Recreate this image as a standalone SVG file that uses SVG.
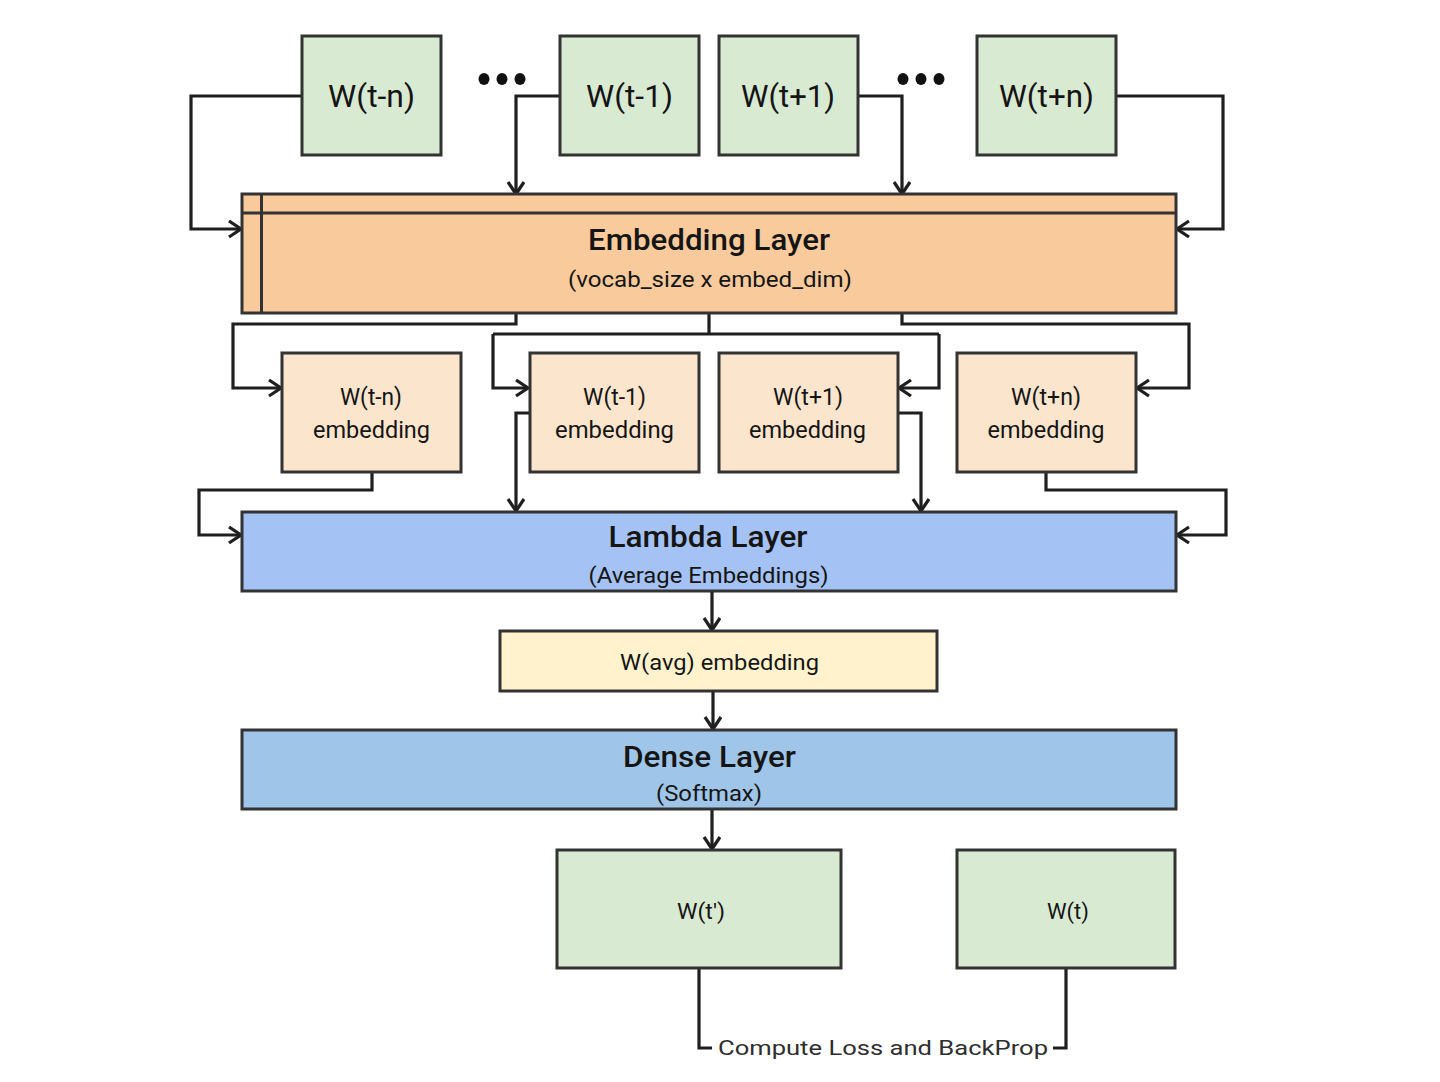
<svg xmlns="http://www.w3.org/2000/svg" width="1440" height="1082" viewBox="0 0 1440 1082">
<style>
.box{stroke:#333333;stroke-width:3}
.green{fill:#d9ead3}
.peach{fill:#f9cb9c}
.light{fill:#fce5cd}
.lambda{fill:#a4c2f4}
.avg{fill:#fff2cc}
.dense{fill:#9fc5e8}
.conn{fill:none;stroke:#1f1f1f;stroke-width:3.2;stroke-linejoin:miter}
.arr{marker-end:url(#arrow)}
text{font-family:Roboto,"Liberation Sans",Arial,sans-serif;fill:#151515;text-anchor:middle}
.t31{font-size:31px}
.t29{font-size:29px;font-weight:500}
.t23{font-size:23px}
.t21{font-size:22px}
.t22{font-size:22px}
</style>
<defs>
<marker id="arrow" markerUnits="userSpaceOnUse" markerWidth="20" markerHeight="20" refX="13" refY="9" orient="auto" viewBox="0 0 20 20">
<path d="M1,1 L13,9 L1,17" fill="none" stroke="#1f1f1f" stroke-width="3.2"/>
</marker>
</defs>
<rect width="1440" height="1082" fill="#ffffff"/>

<g id="connectors">
<path class="conn arr" d="M301,96 H191 V229 H241"/>
<path class="conn arr" d="M559,96 H516 V194"/>
<path class="conn arr" d="M859,96 H902 V194"/>
<path class="conn arr" d="M1117,96 H1223 V229 H1177"/>
<path class="conn arr" d="M516,313 V324 H233 V388 H281"/>
<path class="conn" d="M709,313 V334 M493,334 H939"/>
<path class="conn arr" d="M493,334 V388 H528"/>
<path class="conn arr" d="M939,334 V388 H899"/>
<path class="conn arr" d="M902,313 V324 H1189 V388 H1137"/>
<path class="conn arr" d="M372,473 V490 H199 V535 H241"/>
<path class="conn arr" d="M529,413 H516 V511"/>
<path class="conn arr" d="M898,413 H921 V511"/>
<path class="conn arr" d="M1046,473 V490 H1226 V535 H1177"/>
<path class="conn arr" d="M712,592 V630"/>
<path class="conn arr" d="M713,692 V729"/>
<path class="conn arr" d="M712,810 V849"/>
<path class="conn" d="M699,969 V1048 H712"/>
<path class="conn" d="M1066,969 V1048 H1053"/>
</g>

<g id="dots-left" fill="#111">
<ellipse cx="484" cy="79" rx="5.5" ry="6"/>
<ellipse cx="502" cy="79" rx="5.5" ry="6"/>
<ellipse cx="520" cy="79" rx="5.5" ry="6"/>
</g>
<g id="dots-right" fill="#111">
<ellipse cx="903" cy="79" rx="5.5" ry="6"/>
<ellipse cx="921" cy="79" rx="5.5" ry="6"/>
<ellipse cx="939" cy="79" rx="5.5" ry="6"/>
</g>

<g id="w-t-n">
<rect class="box green" x="302" y="36" width="139" height="119"/>
<text class="t31" x="371.5" y="107" textLength="87" lengthAdjust="spacingAndGlyphs">W(t-n)</text>
</g>
<g id="w-t-1">
<rect class="box green" x="560" y="36" width="139" height="119"/>
<text class="t31" x="629.5" y="107" textLength="87" lengthAdjust="spacingAndGlyphs">W(t-1)</text>
</g>
<g id="w-t+1">
<rect class="box green" x="719" y="36" width="139" height="119"/>
<text class="t31" x="788" y="107" textLength="94" lengthAdjust="spacingAndGlyphs">W(t+1)</text>
</g>
<g id="w-t+n">
<rect class="box green" x="977" y="36" width="139" height="119"/>
<text class="t31" x="1046.5" y="107" textLength="95" lengthAdjust="spacingAndGlyphs">W(t+n)</text>
</g>

<g id="embedding-layer">
<rect class="box peach" x="242" y="194" width="934" height="119"/>
<line x1="242" y1="213" x2="1176" y2="213" stroke="#333333" stroke-width="3"/>
<line x1="261.5" y1="194" x2="261.5" y2="313" stroke="#333333" stroke-width="3"/>
<text class="t29" x="709" y="250" textLength="242" lengthAdjust="spacingAndGlyphs">Embedding Layer</text>
<text class="t21" x="710" y="287" textLength="284" lengthAdjust="spacingAndGlyphs">(vocab_size x embed_dim)</text>
</g>

<g id="emb-t-n">
<rect class="box light" x="282" y="353" width="179" height="119"/>
<text class="t23" x="371" y="405" textLength="62" lengthAdjust="spacingAndGlyphs">W(t-n)</text>
<text class="t23" x="371.5" y="438" textLength="117" lengthAdjust="spacingAndGlyphs">embedding</text>
</g>
<g id="emb-t-1">
<rect class="box light" x="530" y="353" width="169" height="119"/>
<text class="t23" x="614.5" y="405" textLength="63" lengthAdjust="spacingAndGlyphs">W(t-1)</text>
<text class="t23" x="614.5" y="438" textLength="119" lengthAdjust="spacingAndGlyphs">embedding</text>
</g>
<g id="emb-t+1">
<rect class="box light" x="719" y="353" width="179" height="119"/>
<text class="t23" x="808" y="405" textLength="70" lengthAdjust="spacingAndGlyphs">W(t+1)</text>
<text class="t23" x="807.5" y="438" textLength="117" lengthAdjust="spacingAndGlyphs">embedding</text>
</g>
<g id="emb-t+n">
<rect class="box light" x="957" y="353" width="179" height="119"/>
<text class="t23" x="1046" y="405" textLength="70" lengthAdjust="spacingAndGlyphs">W(t+n)</text>
<text class="t23" x="1046" y="438" textLength="117" lengthAdjust="spacingAndGlyphs">embedding</text>
</g>

<g id="lambda-layer">
<rect class="box lambda" x="242" y="512" width="934" height="79"/>
<text class="t29" x="708" y="547" textLength="199" lengthAdjust="spacingAndGlyphs">Lambda Layer</text>
<text class="t21" x="708.5" y="583" textLength="240" lengthAdjust="spacingAndGlyphs">(Average Embeddings)</text>
</g>

<g id="w-avg">
<rect class="box avg" x="500" y="631" width="437" height="60"/>
<text class="t22" x="719.5" y="670" textLength="199" lengthAdjust="spacingAndGlyphs">W(avg) embedding</text>
</g>

<g id="dense-layer">
<rect class="box dense" x="242" y="730" width="934" height="79"/>
<text class="t29" x="709.5" y="767" textLength="173" lengthAdjust="spacingAndGlyphs">Dense Layer</text>
<text class="t21" x="709" y="801" textLength="106" lengthAdjust="spacingAndGlyphs">(Softmax)</text>
</g>

<g id="w-t-pred">
<rect class="box green" x="557" y="850" width="284" height="118"/>
<text class="t22" x="701" y="919" textLength="48" lengthAdjust="spacingAndGlyphs">W(t')</text>
</g>
<g id="w-t">
<rect class="box green" x="957" y="850" width="218" height="118"/>
<text class="t22" x="1068" y="919" textLength="42" lengthAdjust="spacingAndGlyphs">W(t)</text>
</g>

<g id="loss-label">
<text x="718" y="1055" style="font-size:21px;text-anchor:start;fill:#2e2e2e" textLength="330" lengthAdjust="spacingAndGlyphs">Compute Loss and BackProp</text>
</g>
</svg>
